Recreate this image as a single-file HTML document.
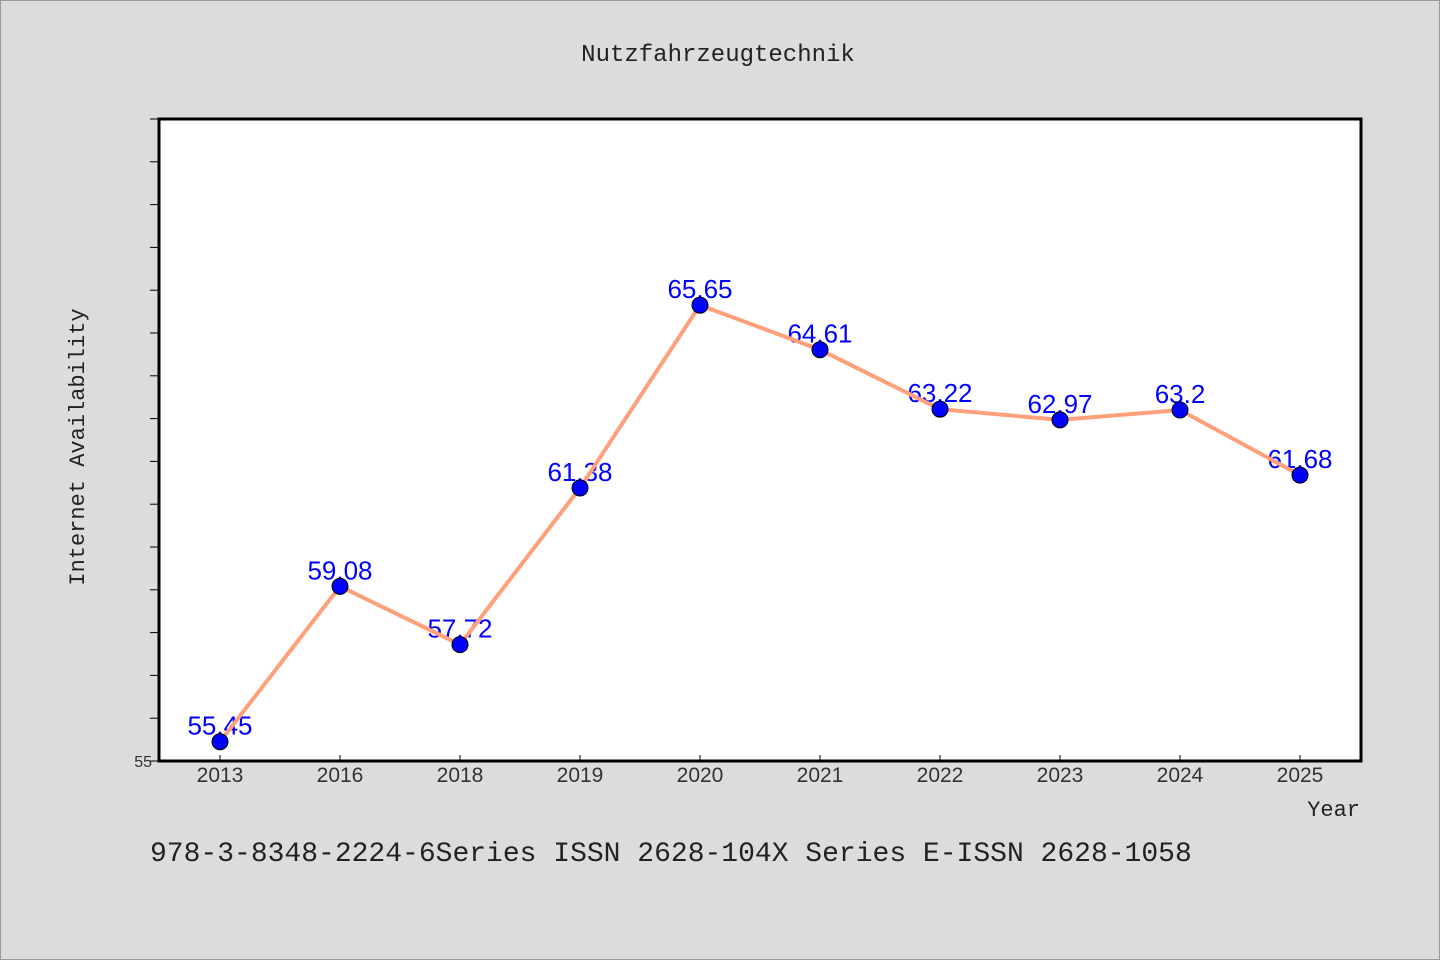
<!DOCTYPE html>
<html><head><meta charset="utf-8"><style>
body{margin:0;background:#dcdcdc;}
svg{display:block;font-family:"Liberation Sans","WenQuanYi Zen Hei",sans-serif;}
.mono{font-family:"Liberation Mono","WenQuanYi Zen Hei",monospace;}
</style></head><body>
<svg id="c" width="1440" height="960">
<rect x="0.5" y="0.5" width="1439" height="959" fill="#dcdcdc" stroke="#999"/>
<text class="mono" x="718" y="61" font-size="24" text-anchor="middle" fill="#222">Nutzfahrzeugtechnik</text>
<rect x="159" y="119" width="1202" height="642" fill="#fff" stroke="#000" stroke-width="3"/>
<text class="mono" transform="translate(84,447) rotate(-90)" font-size="22" text-anchor="middle" fill="#222">Internet Availability</text>
<text class="mono" x="1360" y="816" font-size="22" text-anchor="end" fill="#222">Year</text>
<text class="mono" x="150" y="861" font-size="28" fill="#222">978-3-8348-2224-6Series ISSN 2628-104X Series E-ISSN 2628-1058</text>
<g id="ax"></g><g id="marks"></g>
</svg>
<script>
const categories=["2013","2016","2018","2019","2020","2021","2022","2023","2024","2025"];
const values=[55.45,59.08,57.72,61.38,65.65,64.61,63.22,62.97,63.2,61.68];
const valueLabels=["55.45","59.08","57.72","61.38","65.65","64.61","63.22","62.97","63.2","61.68"];
const yMin=55,yMax=70;
const NS="http://www.w3.org/2000/svg";
const L=159,R=1361,T=119,B=761;
const x=i=>220+i*120;
const y=v=>B-(v-yMin)/(yMax-yMin)*(B-T);
function mk(t,a,p){const e=document.createElementNS(NS,t);for(const k in a)e.setAttribute(k,a[k]);p.appendChild(e);return e;}
const ax=document.getElementById('ax'),mg=document.getElementById('marks');
for(let v=yMin;v<=yMax;v++){
 const t=mk('line',{x1:L-9,x2:L,y1:y(v),y2:y(v),stroke:'#000','stroke-width':1},ax);
 
 
}
const yl=mk('text',{x:152,y:767,'font-size':16,'text-anchor':'end',fill:'#333'},ax);yl.textContent=String(yMin);


categories.forEach((c,i)=>{
 const t=mk('line',{x1:x(i),x2:x(i),y1:B-6,y2:B,stroke:'#000','stroke-width':1},ax);
 
 
 const lb=mk('text',{x:x(i),y:782,'font-size':21,'text-anchor':'middle',fill:'#333'},ax);lb.textContent=c;
 
 
});
values.forEach((v,i)=>{
 const lb=mk('text',{x:x(i),y:y(v)-7,'font-size':26,'text-anchor':'middle',fill:'#0000ff'},mg);lb.textContent=valueLabels[i];
 
 
});
const pl=mk('polyline',{points:values.map((v,i)=>x(i)+','+y(v)).join(' '),fill:'none',stroke:'#ffa07a','stroke-width':4},mg);


values.forEach((v,i)=>{
 const c=mk('circle',{cx:x(i),cy:y(v),r:8,fill:'#0000ff',stroke:'#000','stroke-width':1},mg);
 
 
});
</script>
</body></html>
